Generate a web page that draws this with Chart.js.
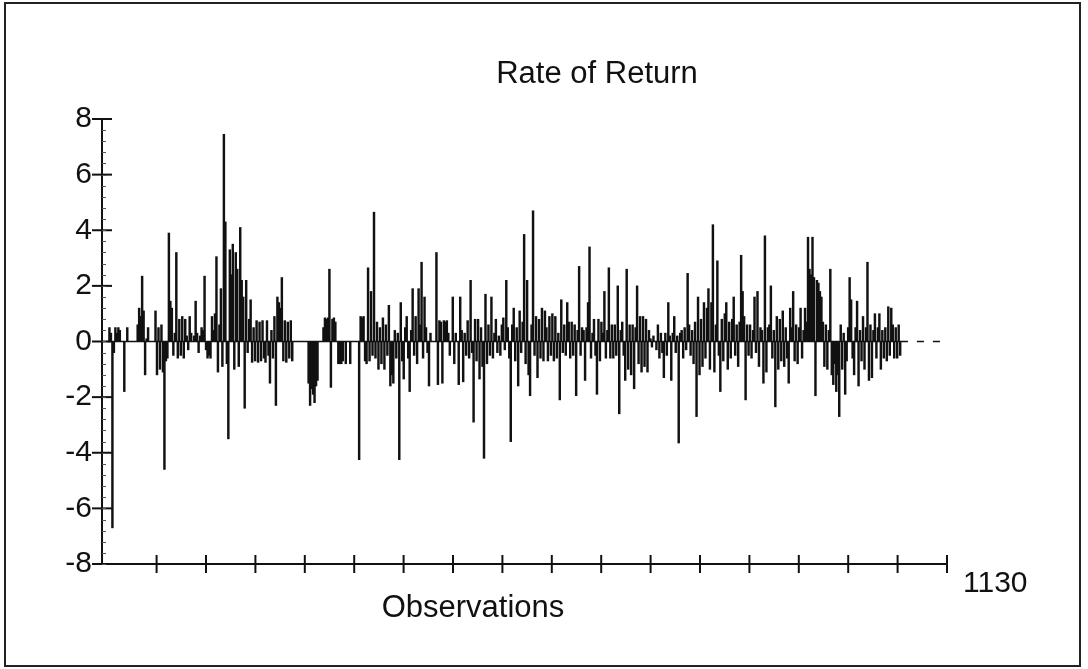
<!DOCTYPE html>
<html>

<head>
  <title>Rate of Return</title>
  <script src="https://cdn.jsdelivr.net/npm/chart.js"></script>
  <style>
    body {
      margin: 0;
      background: #fff;
    }

    #wrap {
      position: relative;
      width: 1088px;
      height: 669px;
    }

    #frame {
      position: absolute;
      left: 4px;
      top: 2px;
      width: 1073px;
      height: 661px;
      border: 2px solid #222;
      pointer-events: none;
    }
  </style>
</head>

<body>
  <div id="wrap">
    <canvas id="ror" width="1088" height="669"></canvas>
    <div id="frame"></div>
  </div>

  <script>
    const returns = [
      0, 0.5, 0.3, -6.7, -0.4, 0.5, 0.3, 0.5, 0.4, 0, 0, -1.8, 0, 0.5, 0, 0, 0, 0, 0, 0,
      0.6, 1.2, 0.9, 2.35, 1.1, -1.2, 0.1, 0.5, 0, 0, 0, 0, 1.1, -1.2, 0.5, -1.0, 0.6, -1.1, -4.6, -0.7,
      -0.6, 3.9, 1.45, 1.2, -0.5, 0.3, 3.2, -0.6, 0.8, -0.5, 0.9, -0.6, 0.8, 0.2, -0.3, 0.9, 0.3, 0, 0.2, 1.45,
      0.3, -0.4, 0.2, 0.5, 0.4, 2.35, -0.3, -0.6, -0.5, -0.6, 0.9, 0.4, 1.0, 3.05, -1.1, 0.6, 1.9, -0.9, 7.45, 4.3,
      -0.8, -3.5, 3.3, 2.4, 3.5, -1.0, 3.2, 2.6, -0.9, 4.1, 2.2, 1.6, -2.4, 2.2, -0.4, 0.8, 1.5, -0.75, 0.5, -0.7,
      0.75, -0.75, 0.7, -0.7, 0.75, -0.6, -0.75, 0.75, -0.5, -1.5, 0.4, -0.6, 0.9, -2.3, 1.6, 1.4, 1.2, 2.3, -0.7, 0.75,
      -0.75, 0.7, -0.6, 0.75, -0.7, 0, 0, 0, 0, 0, 0, 0, 0, 0, 0, -1.5, -2.3, -1.7, -1.9, -2.2,
      -1.6, -1.4, 0, 0, 0, 0.5, 0.85, 0.8, 0.85, 2.6, -1.65, 0.8, 0.85, 0.7, 0, -0.8, -0.8, -0.8, -0.7, 0,
      -0.8, 0, 0, -0.8, 0, 0, 0, 0, 0, -4.25, 0.9, 0.85, 0.9, -0.7, -0.8, 2.65, -0.7, 1.8, -0.5, 4.65,
      -0.6, 0.7, -1.0, 0.5, -0.8, 0.85, -1.0, 0.6, -0.5, 1.3, -1.6, -1.2, -1.5, 0.4, -0.6, 0.3, -4.25, 1.4, -0.7, -1.35,
      0.5, 0.9, -0.6, -1.8, 0.4, 1.9, -0.5, 0.9, -0.8, 1.9, 0.6, 2.85, -0.6, 1.6, 0.5, -0.4, -1.6, 0.3, 0, 0,
      0, 3.2, -1.55, 0.75, 0.7, -1.5, 0.75, 0.7, 0.75, 0.3, -0.5, 0, 1.6, -0.8, 0.3, 0, -1.55, 1.6, 0.4, -1.45,
      0.3, -0.5, 0.75, -0.6, 2.2, -0.4, -2.9, 0.8, -0.7, 0.8, -1.35, 0.5, -0.9, -4.2, 1.7, -0.8, 0.6, -0.5, 1.6, -0.6,
      0.3, 0.8, -0.4, 0.2, -0.5, 0.6, 0.85, -0.3, 2.2, 0.5, -0.6, -3.6, 0.6, 1.2, -0.7, 0.5, -1.6, 1.1, -0.4, 0.7,
      3.85, -0.8, 2.2, -1.2, -1.95, 0.6, 4.7, -0.5, 0.9, -1.3, 0.8, -0.6, 1.2, -0.7, 1.1, 0.5, -0.7, 0.9, -0.5, 1.0,
      -0.7, 0.9, -0.6, 0.3, -2.1, 1.5, -0.4, 0.6, -0.5, 1.4, 0.7, -0.6, 0.7, -0.5, 0.6, -1.95, 0.4, 2.7, -0.5, 0.5,
      0.4, -1.4, 0.5, 1.4, 3.4, -0.6, 0.3, 0.8, -0.5, -1.9, 0.8, -0.7, 0.7, 0.3, 1.8, -0.6, 0.4, 2.65, -0.6, 0.6,
      -0.6, 0.6, -0.5, 2.0, -2.6, 0.4, 0.7, -0.5, -1.4, 2.6, -1.0, 0.6, -1.2, 0.6, -1.7, 0.5, 2.0, -0.8, 0.9, -1.1,
      0.9, -0.9, 0.8, -1.1, 0.4, 0.1, -0.2, 0.2, 0, -0.3, 0.6, -0.6, 0.3, -0.4, -1.3, 0.3, -0.5, 1.4, 0.2, -1.4,
      0.3, 0.9, -0.4, 0.2, -3.65, 0.3, 0.4, -0.6, 0.5, -0.3, 2.45, 0.6, -0.5, 0.4, -0.8, 0.7, -2.7, 1.6, -1.2, 0.8,
      -0.9, 1.4, -0.6, 1.2, 1.9, -1.0, 1.4, 4.2, -1.1, 0.6, 2.9, -0.5, -1.8, 0.8, -0.7, 1.0, 1.4, -1.0, 0.7, -0.6,
      0.8, 1.6, -0.5, 0.6, -0.9, 0.7, 3.1, 1.8, 0.9, -2.1, 0.6, -0.5, 0.6, -0.6, 0.4, 1.6, -0.4, 1.8, -0.9, 0.5,
      0.4, -1.5, 3.8, -1.1, 0.5, 0.6, 2.0, -0.6, 0.4, -2.35, 0.9, -1.0, 0.8, -0.7, 1.1, -0.9, 0.5, -0.6, -1.5, 1.2,
      0.5, 1.8, -0.7, 0.6, -0.8, 0.5, 1.2, -0.6, 0.4, 1.2, 0.7, 3.75, 2.6, 2.4, 3.75, 2.3, -1.95, 2.2, 2.1, 1.8,
      1.6, 0.7, -0.9, 0.6, -1.0, 0.4, 2.6, -1.2, -1.55, -0.8, -1.8, -1.2, -2.7, 0.6, -1.0, 0.3, -1.9, -0.7, 0.5, 2.3,
      1.5, -0.6, -1.2, 0.5, 1.45, -1.6, 0.4, -0.7, 0.9, -1.0, 0.5, 2.85, -1.4, 0.6, -1.3, 0.4, 1.0, -0.6, 0.5, 1.0,
      -1.0, 0.4, -0.6, 0.5, -0.7, 1.25, -0.5, 1.2, 0.6, -0.6, 0.5, -0.6, 0.6, -0.5
    ];
    const obsStep = 2;
    const lastObs = returns.length * obsStep;

    // axes
    const xMin = -7;
    const xMax = 1130;
    const xTickCount = 17;
    const xTicks = Array.from({ length: xTickCount }, (_, k) => (k + 1) * xMax / xTickCount);
    const yMin = -8;
    const yMax = 8;
    const yStep = 2;
    const yMinorStep = 0.4;

    const titleText = 'Rate of Return';
    const xTitleText = 'Observations';
    const fontFamily = '"Liberation Sans", Arial, sans-serif';
    const ink = '#111';

    // tick marks that cross the axes, plus the two captions
    const axisMarks = {
      id: 'axisMarks',
      afterDraw(chart) {
        const { ctx, scales: { x, y } } = chart;
        const x0 = x.left;
        const y0 = y.bottom;
        ctx.save();
        ctx.strokeStyle = ink;
        ctx.lineWidth = 2;
        xTicks.forEach(v => {
          const px = x.getPixelForValue(v);
          ctx.beginPath();
          ctx.moveTo(px, y0 - 9);
          ctx.lineTo(px, y0 + 9);
          ctx.stroke();
        });
        for (let v = yMin; v <= yMax; v += yStep) {
          const py = y.getPixelForValue(v);
          ctx.beginPath();
          ctx.moveTo(x0 - 10, py);
          ctx.lineTo(x0 + 10, py);
          ctx.stroke();
        }
        ctx.lineWidth = 1;
        ctx.strokeStyle = '#555';
        for (let v = yMin; v < yMax; v += yMinorStep) {
          const py = Math.round(y.getPixelForValue(v)) + 0.5;
          ctx.beginPath();
          ctx.moveTo(x0, py);
          ctx.lineTo(x0 + 4, py);
          ctx.stroke();
        }
        ctx.fillStyle = ink;
        ctx.font = '31px ' + fontFamily;
        ctx.textAlign = 'center';
        ctx.textBaseline = 'alphabetic';
        ctx.fillText(titleText, 597, 83);
        ctx.fillText(xTitleText, 473, 617);
        ctx.restore();
      }
    };

    const ctx = document.getElementById('ror').getContext('2d');
    const chart = new Chart(ctx, {
      type: 'bar',
      data: {
        datasets: [{
          type: 'line',
          data: [{ x: 0, y: 0 }, { x: lastObs, y: 0 }],
          borderColor: ink,
          borderWidth: 1.5,
          pointRadius: 0,
        }, {
          type: 'line',
          data: [{ x: lastObs, y: 0 }, { x: xMax, y: 0 }],
          borderColor: ink,
          borderWidth: 1.5,
          borderDash: [7, 9],
          pointRadius: 0,
        }, {
          type: 'bar',
          data: returns.map((v, i) => ({ x: (i + 1) * obsStep - 1, y: v })),
          backgroundColor: ink,
          borderWidth: 0,
          barThickness: 1.8,
        }]
      },
      options: {
        responsive: false,
        animation: false,
        layout: {
          padding: { top: 119, right: 141, bottom: 0, left: 0 }
        },
        plugins: {
          legend: { display: false },
          tooltip: { enabled: false },
          title: { display: false }
        },
        scales: {
          x: {
            type: 'linear',
            min: xMin,
            max: xMax,
            offset: false,
            afterBuildTicks: s => { s.ticks = xTicks.map(v => ({ value: v })); },
            afterFit: s => { s.height = 105; },
            grid: { display: false, drawTicks: false },
            border: { display: true, color: ink, width: 2 },
            ticks: {
              autoSkip: false,
              maxRotation: 0,
              align: 'start',
              labelOffset: 16,
              padding: 2,
              color: ink,
              font: { family: fontFamily, size: 30 },
              callback: v => (v === xMax ? String(xMax) : '')
            }
          },
          y: {
            min: yMin,
            max: yMax,
            afterFit: s => { s.width = 102; },
            grid: { display: false, drawTicks: false },
            border: { display: true, color: ink, width: 2 },
            ticks: {
              stepSize: yStep,
              padding: 10,
              color: ink,
              font: { family: fontFamily, size: 30 }
            }
          }
        }
      },
      plugins: [axisMarks]
    });
  </script>
</body>

</html>
